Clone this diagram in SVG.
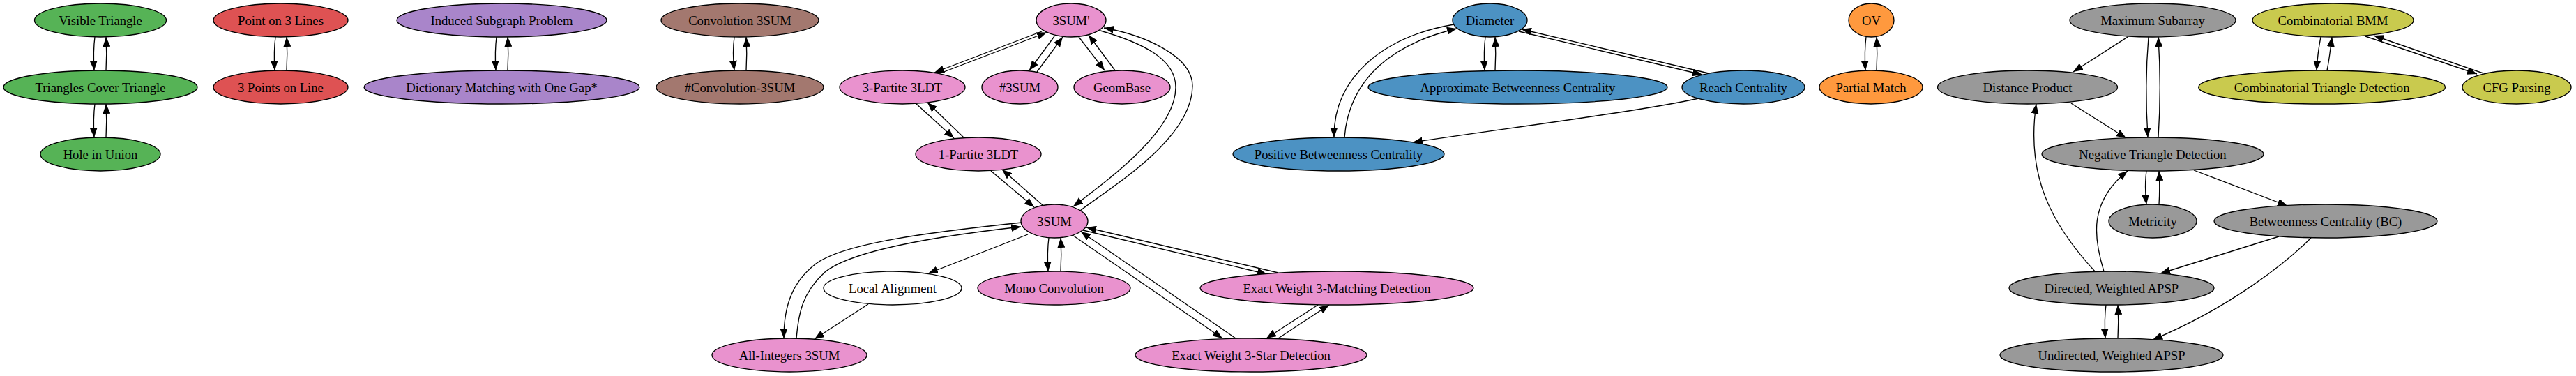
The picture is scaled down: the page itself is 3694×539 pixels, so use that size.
<svg xmlns="http://www.w3.org/2000/svg" width="3694" height="539" viewBox="0 0 3694 539">
<defs>
<style>
.node ellipse{stroke:#000;stroke-width:1.33}
.node text{font-family:"Liberation Serif","Times New Roman",serif;font-size:18.67px;text-anchor:middle;fill:#000}
.green{fill:#56b356}.red{fill:#de5253}.purple{fill:#a985ca}.brown{fill:#a3786f}.pink{fill:#e992ce}
.white{fill:#fff}.blue{fill:#4c92c3}.orange{fill:#ff993e}.gray{fill:#999999}.olive{fill:#c9ca4e}
#edges path{fill:none;stroke:#000;stroke-width:1.33;marker-end:url(#arr)}
</style>
<marker id="arr" markerUnits="userSpaceOnUse" viewBox="0 0 14 11" markerWidth="14" markerHeight="11" refX="14" refY="5.5" orient="auto">
<path d="M0,0 L14,5.5 L0,11 Z" fill="#000"/>
</marker>
</defs>
<rect width="3694" height="539" fill="#fff"/>
<g id="edges">
<path d="M136,53 C134,68 134,84 135,101"/>
<path d="M152,101 C153,85 153,69 152,53"/>
<path d="M136,149 C134,164 134,180 135,197"/>
<path d="M152,197 C153,181 153,165 152,149"/>
<path d="M395,53 C393,68 393,84 394,101"/>
<path d="M411,101 C412,85 412,69 411,53"/>
<path d="M712,53 C710,68 710,84 711,101"/>
<path d="M728,101 C729,85 729,69 728,53"/>
<path d="M1053,53 C1051,68 1051,84 1053,101"/>
<path d="M1070,101 C1071,85 1071,69 1070,53"/>
<path d="M2676,53 C2674,68 2674,84 2675,101"/>
<path d="M2691,101 C2692,85 2692,69 2691,53"/>
<path d="M2130,53 C2128,68 2128,84 2129,101"/>
<path d="M2144,101 C2145,85 2145,69 2144,53"/>
<path d="M1504,341 C1502,356 1502,372 1503,389"/>
<path d="M1521,389 C1522,373 1522,357 1521,341"/>
<path d="M3081,53 C3077,100 3077,150 3080,197"/>
<path d="M3095,197 C3098,150 3098,100 3095,53"/>
<path d="M3078,245 C3076,260 3076,275 3078,293"/>
<path d="M3096,293 C3097,277 3097,261 3096,245"/>
<path d="M3020,437 C3018,452 3018,468 3019,485"/>
<path d="M3037,485 C3038,469 3038,453 3037,437"/>
<path d="M3328,53 C3325,68 3323,84 3322,101"/>
<path d="M3337,101 C3340,86 3342,70 3344,53"/>
<path d="M3392,52 L3552,106"/>
<path d="M3561,105 L3404,51"/>
<path d="M1494,45 L1340,104"/>
<path d="M1347,105.5 L1501,46.5"/>
<path d="M1512,52 L1476,101"/>
<path d="M1487,103 L1524,53"/>
<path d="M1547,53 L1584,101"/>
<path d="M1599,101 L1561,50"/>
<path d="M1549,302 C1590,270 1710,200 1710,123 C1710,80 1640,50 1583,40"/>
<path d="M1578,44 C1640,62 1686,85 1686,125 C1686,185 1600,250 1539,296"/>
<path d="M1421,245 L1483,297"/>
<path d="M1495,294 L1437,243"/>
<path d="M1313,148 L1368,198"/>
<path d="M1384,199 L1330,147"/>
<path d="M1465,319 C1340,332 1210,348 1170,378 C1135,405 1124,440 1124,485"/>
<path d="M1142,485 C1145,450 1150,420 1183,390 C1220,360 1330,340 1464,325"/>
<path d="M1474,336 L1331,392"/>
<path d="M1245,436 L1168,486"/>
<path d="M1833,391 L1558,326"/>
<path d="M1553,330 L1817,393"/>
<path d="M1538,337 L1753,485"/>
<path d="M1772,485 L1550,332"/>
<path d="M1890,437 L1816,485"/>
<path d="M1833,485 L1906,437"/>
<path d="M2085,35 C1985,52 1912,110 1913,197"/>
<path d="M1928,197 C1935,110 2000,62 2089,41"/>
<path d="M2450,105 L2182,42"/>
<path d="M2178,45 L2441,107"/>
<path d="M2436,141 C2350,160 2150,185 2026,204"/>
<path d="M3051,53 L2973,103"/>
<path d="M2970,148 L3049,198"/>
<path d="M3146,244 L3280,295"/>
<path d="M3268,339 L3098,392"/>
<path d="M3314,341 C3280,375 3200,440 3087,487"/>
<path d="M3005,390 C2940,320 2905,250 2920,149"/>
<path d="M3017,389 C3002,340 2995,290 3051,245"/>
</g>
<g id="visible_triangle" class="node"><ellipse cx="144" cy="29" rx="94.5" ry="24" class="green"/><text x="144" y="35.5">Visible Triangle</text></g>
<g id="triangles_cover_triangle" class="node"><ellipse cx="144" cy="125" rx="139" ry="24" class="green"/><text x="144" y="131.5">Triangles Cover Triangle</text></g>
<g id="hole_in_union" class="node"><ellipse cx="144" cy="221" rx="86" ry="24" class="green"/><text x="144" y="227.5">Hole in Union</text></g>
<g id="point_on_3_lines" class="node"><ellipse cx="402.5" cy="29" rx="96.5" ry="24" class="red"/><text x="402.5" y="35.5">Point on 3 Lines</text></g>
<g id="three_points_on_line" class="node"><ellipse cx="402.5" cy="125" rx="96.5" ry="24" class="red"/><text x="402.5" y="131.5">3 Points on Line</text></g>
<g id="induced_subgraph" class="node"><ellipse cx="719.5" cy="29" rx="150.5" ry="24" class="purple"/><text x="719.5" y="35.5">Induced Subgraph Problem</text></g>
<g id="dictionary_matching" class="node"><ellipse cx="719.5" cy="125" rx="197.5" ry="24" class="purple"/><text x="719.5" y="131.5">Dictionary Matching with One Gap*</text></g>
<g id="convolution_3sum" class="node"><ellipse cx="1061" cy="29" rx="113" ry="24" class="brown"/><text x="1061" y="35.5">Convolution 3SUM</text></g>
<g id="count_convolution_3sum" class="node"><ellipse cx="1061" cy="125" rx="120" ry="24" class="brown"/><text x="1061" y="131.5">#Convolution-3SUM</text></g>
<g id="three_sum_prime" class="node"><ellipse cx="1536" cy="29" rx="50" ry="24" class="pink"/><text x="1536" y="35.5">3SUM'</text></g>
<g id="three_partite_3ldt" class="node"><ellipse cx="1294" cy="125" rx="90" ry="24" class="pink"/><text x="1294" y="131.5">3-Partite 3LDT</text></g>
<g id="count_3sum" class="node"><ellipse cx="1462.5" cy="125" rx="54.5" ry="24" class="pink"/><text x="1462.5" y="131.5">#3SUM</text></g>
<g id="geombase" class="node"><ellipse cx="1609" cy="125" rx="69" ry="24" class="pink"/><text x="1609" y="131.5">GeomBase</text></g>
<g id="one_partite_3ldt" class="node"><ellipse cx="1403" cy="221" rx="90" ry="24" class="pink"/><text x="1403" y="227.5">1-Partite 3LDT</text></g>
<g id="three_sum" class="node"><ellipse cx="1512" cy="317" rx="48" ry="24" class="pink"/><text x="1512" y="323.5">3SUM</text></g>
<g id="local_alignment" class="node"><ellipse cx="1280" cy="413" rx="99" ry="24" class="white"/><text x="1280" y="419.5">Local Alignment</text></g>
<g id="mono_convolution" class="node"><ellipse cx="1511.5" cy="413" rx="109.5" ry="24" class="pink"/><text x="1511.5" y="419.5">Mono Convolution</text></g>
<g id="exact_weight_3_matching" class="node"><ellipse cx="1917" cy="413" rx="196" ry="24" class="pink"/><text x="1917" y="419.5">Exact Weight 3-Matching Detection</text></g>
<g id="all_integers_3sum" class="node"><ellipse cx="1132" cy="509" rx="111" ry="24" class="pink"/><text x="1132" y="515.5">All-Integers 3SUM</text></g>
<g id="exact_weight_3_star" class="node"><ellipse cx="1794" cy="509" rx="166" ry="24" class="pink"/><text x="1794" y="515.5">Exact Weight 3-Star Detection</text></g>
<g id="diameter" class="node"><ellipse cx="2136.5" cy="29" rx="53.5" ry="24" class="blue"/><text x="2136.5" y="35.5">Diameter</text></g>
<g id="approx_betweenness" class="node"><ellipse cx="2176.5" cy="125" rx="214.5" ry="24" class="blue"/><text x="2176.5" y="131.5">Approximate Betweenness Centrality</text></g>
<g id="reach_centrality" class="node"><ellipse cx="2500" cy="125" rx="88" ry="24" class="blue"/><text x="2500" y="131.5">Reach Centrality</text></g>
<g id="positive_betweenness" class="node"><ellipse cx="1919.5" cy="221" rx="151.5" ry="24" class="blue"/><text x="1919.5" y="227.5">Positive Betweenness Centrality</text></g>
<g id="ov" class="node"><ellipse cx="2683.5" cy="29" rx="32.5" ry="24" class="orange"/><text x="2683.5" y="35.5">OV</text></g>
<g id="partial_match" class="node"><ellipse cx="2683" cy="125" rx="74" ry="24" class="orange"/><text x="2683" y="131.5">Partial Match</text></g>
<g id="maximum_subarray" class="node"><ellipse cx="3087" cy="29" rx="119" ry="24" class="gray"/><text x="3087" y="35.5">Maximum Subarray</text></g>
<g id="distance_product" class="node"><ellipse cx="2907.5" cy="125" rx="129" ry="24" class="gray"/><text x="2907.5" y="131.5">Distance Product</text></g>
<g id="negative_triangle" class="node"><ellipse cx="3087" cy="221" rx="159" ry="24" class="gray"/><text x="3087" y="227.5">Negative Triangle Detection</text></g>
<g id="metricity" class="node"><ellipse cx="3087" cy="317" rx="63" ry="24" class="gray"/><text x="3087" y="323.5">Metricity</text></g>
<g id="betweenness_centrality" class="node"><ellipse cx="3335" cy="317" rx="160" ry="24" class="gray"/><text x="3335" y="323.5">Betweenness Centrality (BC)</text></g>
<g id="directed_apsp" class="node"><ellipse cx="3028" cy="413" rx="147" ry="24" class="gray"/><text x="3028" y="419.5">Directed, Weighted APSP</text></g>
<g id="undirected_apsp" class="node"><ellipse cx="3028" cy="509" rx="160" ry="24" class="gray"/><text x="3028" y="515.5">Undirected, Weighted APSP</text></g>
<g id="combinatorial_bmm" class="node"><ellipse cx="3345.5" cy="29" rx="115.5" ry="24" class="olive"/><text x="3345.5" y="35.5">Combinatorial BMM</text></g>
<g id="combinatorial_triangle" class="node"><ellipse cx="3329.6" cy="125" rx="177" ry="24" class="olive"/><text x="3329.6" y="131.5">Combinatorial Triangle Detection</text></g>
<g id="cfg_parsing" class="node"><ellipse cx="3609" cy="125" rx="78" ry="24" class="olive"/><text x="3609" y="131.5">CFG Parsing</text></g>
</svg>
